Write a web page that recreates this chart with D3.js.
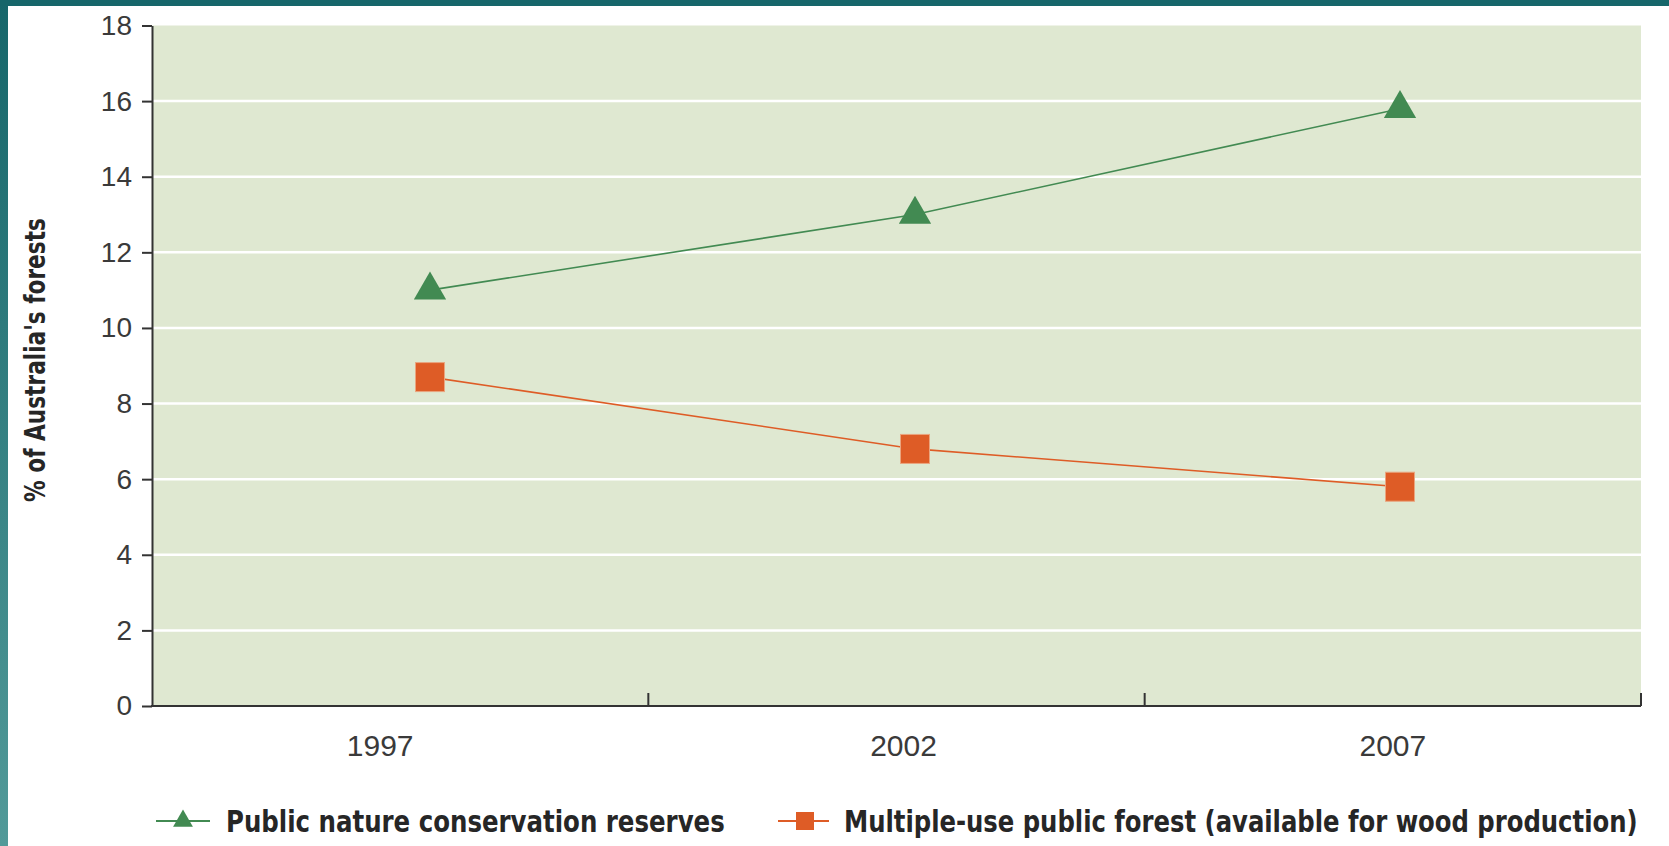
<!DOCTYPE html>
<html>
<head>
<meta charset="utf-8">
<script src="https://cdn.jsdelivr.net/npm/d3@7/dist/d3.min.js"></script>
<style>
  html, body { margin: 0; padding: 0; background: #ffffff; }
  svg { display: block; }
</style>
</head>
<body>
<svg id="chart" width="1669" height="846"></svg>
<script>
// Share of Australia's forests by tenure, 1997–2007
const years = ["1997", "2002", "2007"];
const reserves = [11.0, 13.0, 15.8];        // public nature conservation reserves
const multipleUse = [8.7, 6.8, 5.8];        // multiple-use public forest
const yTicks = [0, 2, 4, 6, 8, 10, 12, 14, 16, 18];
const seriesNames = [
  "Public nature conservation reserves",
  "Multiple-use public forest (available for wood production)"
];
const yTitle = "% of Australia's forests";

const W = 1669, H = 846;
const plot = { left: 152, right: 1641, top: 25.5, bottom: 706 };
const green = "#428a52", orange = "#de5c26";
const condensed = "'Liberation Sans Narrow', 'DejaVu Sans Condensed', 'Liberation Sans', Arial, sans-serif";
const regular = "'Liberation Sans', Arial, Helvetica, sans-serif";

const svg = d3.select("#chart");

// frame: teal band at top and down the left edge
const defs = svg.append("defs");
const grad = defs.append("linearGradient").attr("id", "edge").attr("x1", 0).attr("x2", 0).attr("y1", 0).attr("y2", 1);
grad.append("stop").attr("offset", "0%").attr("stop-color", "#16666a");
grad.append("stop").attr("offset", "100%").attr("stop-color", "#529a99");
svg.append("rect").attr("x", 0).attr("y", 0).attr("width", 8).attr("height", H).attr("fill", "url(#edge)");
svg.append("rect").attr("x", 0).attr("y", 0).attr("width", W).attr("height", 6).attr("fill", "#16666a");

// scales
const y = d3.scaleLinear().domain([0, 18]).range([plot.bottom, plot.top]);
const xBand = d3.scaleBand().domain(years).range([plot.left, plot.right]);
const xPt = d3.scalePoint().domain(years).range([430, 1400]);

// plot background and gridlines
svg.append("rect")
  .attr("x", plot.left).attr("y", plot.top)
  .attr("width", plot.right - plot.left).attr("height", plot.bottom - plot.top)
  .attr("fill", "#dfe8d1");

svg.append("g").selectAll("line")
  .data(yTicks.filter(d => d > 0 && d < 18))
  .join("line")
  .attr("x1", plot.left).attr("x2", plot.right)
  .attr("y1", d => y(d)).attr("y2", d => y(d))
  .attr("stroke", "#ffffff").attr("stroke-width", 2.5);

// y axis
const yAxis = svg.append("g")
  .attr("transform", `translate(${plot.left},0)`)
  .call(d3.axisLeft(y).tickValues(yTicks).tickSize(10).tickPadding(10).tickSizeOuter(0));
yAxis.select(".domain").attr("stroke", "#333").attr("stroke-width", 2);
yAxis.selectAll(".tick line").attr("stroke", "#333").attr("stroke-width", 2);
yAxis.selectAll(".tick text")
  .attr("font-family", regular).attr("font-size", 28).attr("fill", "#3a3a3a");

// x axis: baseline, boundary ticks, category labels
const xAxis = svg.append("g");
xAxis.append("line")
  .attr("x1", plot.left - 1).attr("x2", plot.right)
  .attr("y1", plot.bottom).attr("y2", plot.bottom)
  .attr("stroke", "#333").attr("stroke-width", 2);
xAxis.selectAll(".bound")
  .data(years.slice(1).map(d => xBand(d)).concat([xBand(years[years.length - 1]) + xBand.bandwidth()]))
  .join("line")
  .attr("class", "bound")
  .attr("x1", d => d).attr("x2", d => d)
  .attr("y1", plot.bottom).attr("y2", plot.bottom - 13)
  .attr("stroke", "#333").attr("stroke-width", 2);
xAxis.selectAll(".cat")
  .data(years)
  .join("text")
  .attr("class", "cat")
  .attr("x", d => xBand(d) + xBand.bandwidth() / 2 - (d === "1997" ? 20 : 0) + (d === "2002" ? 7 : 0))
  .attr("y", 756)
  .attr("text-anchor", "middle")
  .attr("font-family", regular).attr("font-size", 30).attr("fill", "#3a3a3a")
  .text(d => d);

// bold condensed label: squeezed horizontally to a given width
function condensedText(parent, str, size, width, transform, anchor) {
  const g = parent.append("g").attr("transform", transform);
  const t = g.append("text")
    .attr("font-family", condensed).attr("font-weight", "bold")
    .attr("font-size", size).attr("fill", "#262626")
    .attr("text-anchor", anchor || "start")
    .attr("dominant-baseline", "central")
    .text(str);
  const natural = t.node().getComputedTextLength();
  t.attr("transform", `scale(${width / natural},1)`);
  return t;
}

// y axis title
condensedText(svg, yTitle, 29, 284, "translate(35,360) rotate(-90)", "middle");

// series lines and markers
const line = d3.line().x((d, i) => xPt(years[i])).y(d => y(d));

svg.append("path").datum(reserves)
  .attr("d", line).attr("fill", "none").attr("stroke", green).attr("stroke-width", 1.6);
svg.append("path").datum(multipleUse)
  .attr("d", line).attr("fill", "none").attr("stroke", orange).attr("stroke-width", 1.6);

const tri = d3.symbol().type(d3.symbolTriangle).size(452);
svg.append("g").selectAll("path")
  .data(reserves)
  .join("path")
  .attr("d", tri)
  .attr("transform", (d, i) => `translate(${xPt(years[i])},${y(d)})`)
  .attr("fill", green);

const sq = 29;
svg.append("g").selectAll("rect")
  .data(multipleUse)
  .join("rect")
  .attr("x", (d, i) => xPt(years[i]) - sq / 2)
  .attr("y", d => y(d) - sq / 2)
  .attr("width", sq).attr("height", sq)
  .attr("fill", orange).attr("stroke", "#eaa57f").attr("stroke-width", 1);

// legend
const legend = svg.append("g");
const legY = 821;
legend.append("line").attr("x1", 156).attr("x2", 210).attr("y1", legY).attr("y2", legY)
  .attr("stroke", green).attr("stroke-width", 2);
legend.append("path").attr("d", d3.symbol().type(d3.symbolTriangle).size(170))
  .attr("transform", `translate(183,${legY})`).attr("fill", green);
condensedText(legend, seriesNames[0], 31, 499, `translate(226,${legY})`);

legend.append("line").attr("x1", 778).attr("x2", 829).attr("y1", legY).attr("y2", legY)
  .attr("stroke", orange).attr("stroke-width", 2);
legend.append("rect").attr("x", 805 - 9).attr("y", legY - 9).attr("width", 18).attr("height", 18)
  .attr("fill", orange);
condensedText(legend, seriesNames[1], 31, 794, `translate(844,${legY})`);
</script>
</body>
</html>
